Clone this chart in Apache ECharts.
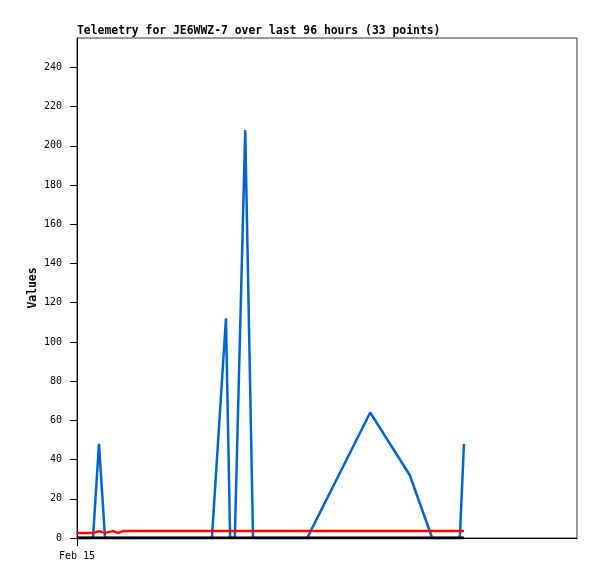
<!DOCTYPE html>
<html>
<head>
<meta charset="utf-8">
<script src="https://cdn.jsdelivr.net/npm/echarts@6/dist/echarts.min.js"></script>
<style>html,body{margin:0;padding:0;background:#fff}#c{width:597px;height:579px}</style>
</head>
<body>
<div id="c"></div>
<script>
var hours = [0.0, 1.0, 1.9, 3.07, 4.22, 5.38, 6.9, 7.9, 9.0, 10.5, 12.1, 15.0, 17.9, 20.7, 23.6, 25.9, 28.6, 29.4, 30.3, 32.3, 33.8, 36.1, 39.0, 41.9, 44.2, 56.3, 63.9, 68.2, 69.7, 71.2, 72.6, 73.5, 74.3];
var blueValues = [0, 0, 0, 0, 48, 0, 0, 0, 0, 0, 0, 0, 0, 0, 0, 0, 112, 0, 0, 208, 0, 0, 0, 0, 0, 64, 32, 0, 0, 0, 0, 0, 48];
var redValues = [2.6, 2.6, 2.6, 2.6, 3.4, 2.6, 3.5, 2.6, 3.6, 3.6, 3.6, 3.6, 3.6, 3.6, 3.6, 3.6, 3.6, 3.6, 3.6, 3.6, 3.6, 3.6, 3.6, 3.6, 3.6, 3.6, 3.6, 3.6, 3.6, 3.6, 3.6, 3.6, 3.6];
var zeroValues = [0, 0, 0, 0, 0, 0, 0, 0, 0, 0, 0, 0, 0, 0, 0, 0, 0, 0, 0, 0, 0, 0, 0, 0, 0, 0, 0, 0, 0, 0, 0, 0, 0];
var yTicks = [0, 20, 40, 60, 80, 100, 120, 140, 160, 180, 200, 220, 240];
var xTickLabel = 'Feb 15';
var titleText = 'Telemetry for JE6WWZ-7 over last 96 hours (33 points)';

function pairs(vals) { return hours.map(function (h, i) { return [h, vals[i]]; }); }

var chart = echarts.init(document.getElementById('c'), null, {renderer: 'canvas'});
var mono = 'DejaVu Sans Mono';
chart.setOption({
  animation: false,
  title: {
    text: titleText, left: 77, top: 26, padding: 0,
    textStyle: {fontFamily: mono, fontSize: 11.4, fontWeight: 'bold', color: '#000'}
  },
  grid: {left: 77, top: 38, width: 500, height: 500, show: true, borderColor: '#333', borderWidth: 1, backgroundColor: '#fff'},
  xAxis: {
    type: 'value', min: 0, max: 96,
    axisLine: {show: true, lineStyle: {color: '#000', width: 1}},
    axisTick: {show: true, customValues: [0], length: 8, lineStyle: {color: '#000'}},
    axisLabel: {customValues: [0], formatter: function () { return xTickLabel; }, fontFamily: mono, fontSize: 10, color: '#000', margin: 13},
    splitLine: {show: false}
  },
  yAxis: {
    type: 'value', min: 0, max: 255,
    name: 'Values', nameLocation: 'middle', nameGap: 38, nameMoveOverlap: false,
    nameTextStyle: {fontFamily: mono, fontSize: 11.4, fontWeight: 'bold', color: '#000'},
    axisLine: {show: true, lineStyle: {color: '#000', width: 1}},
    axisTick: {show: true, customValues: yTicks, length: 7, lineStyle: {color: '#000'}},
    axisLabel: {customValues: yTicks, fontFamily: mono, fontSize: 10, color: '#000', margin: 15},
    splitLine: {show: false}
  },
  series: [
    {type: 'line', data: pairs(blueValues), symbol: 'none', lineStyle: {color: '#0066cc', width: 2.5}, z: 2},
    {type: 'line', data: pairs(redValues), symbol: 'none', lineStyle: {color: '#ff0000', width: 2.5}, z: 3},
    {type: 'line', data: pairs(zeroValues), symbol: 'none', lineStyle: {color: '#000000', width: 3}, z: 4}
  ]
});
</script>
</body>
</html>
